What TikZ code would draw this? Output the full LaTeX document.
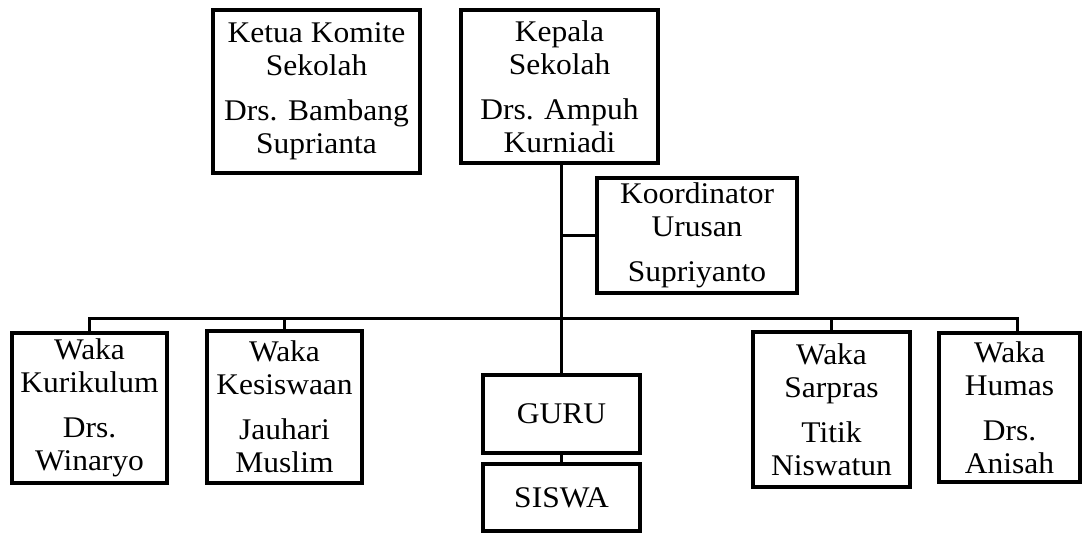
\documentclass[tikz,border=0pt]{standalone}
\usepackage{fontspec}
\setmainfont[FakeStretch=1.05]{Liberation Serif}
\begin{document}
\begin{tikzpicture}[x=1pt,y=-1pt,
  box/.style={draw, line width=3.5pt, inner sep=0pt, align=center,
    font=\fontsize{30}{33}\selectfont},
  conn/.style={line width=3pt}]
\useasboundingbox (0,0) rectangle (1082,540);
\node[box, minimum width=207, minimum height=163] (ketua) at (316.5,91.5)
  {Ketua Komite\\Sekolah\\[12pt]Drs. Bambang\\Suprianta};
\node[box, minimum width=197, minimum height=153] (kepala) at (559.5,86.5)
  {Kepala\\Sekolah\\[12pt]Drs. Ampuh\\Kurniadi};
\node[box, minimum width=200, minimum height=115] (koord) at (697,235.5)
  {Koordinator\\Urusan\\[12pt]Supriyanto};
\node[box, minimum width=155, minimum height=150] (kurikulum) at (89.5,408)
  {Waka\\Kurikulum\\[12pt]Drs.\\Winaryo};
\node[box, minimum width=155, minimum height=152] (kesiswaan) at (284.5,407)
  {Waka\\Kesiswaan\\[12pt]Jauhari\\Muslim};
\node[box, minimum width=157, minimum height=78] (guru) at (561.5,414) {GURU};
\node[box, minimum width=157, minimum height=67] (siswa) at (561.5,497.5) {SISWA};
\node[box, minimum width=157, minimum height=155] (sarpras) at (831.5,409.5)
  {Waka\\Sarpras\\[12pt]Titik\\Niswatun};
\node[box, minimum width=141, minimum height=149] (humas) at (1009.5,407.5)
  {Waka\\Humas\\[12pt]Drs.\\Anisah};
\coordinate (bus) at (562,318);
\coordinate (humtop) at ([xshift=7.5pt]humas.north);
\draw[conn] (guru.north) -- (guru.north |- kepala.south);
\draw[conn] (koord.west) -- (koord.west -| guru.north);
\draw[conn] (kurikulum.north) |- (bus) -| (humtop);
\draw[conn] (kesiswaan.north) -- (kesiswaan.north |- bus);
\draw[conn] (sarpras.north) -- (sarpras.north |- bus);
\draw[conn] (guru.south) -- (siswa.north);
\end{tikzpicture}
\end{document}
